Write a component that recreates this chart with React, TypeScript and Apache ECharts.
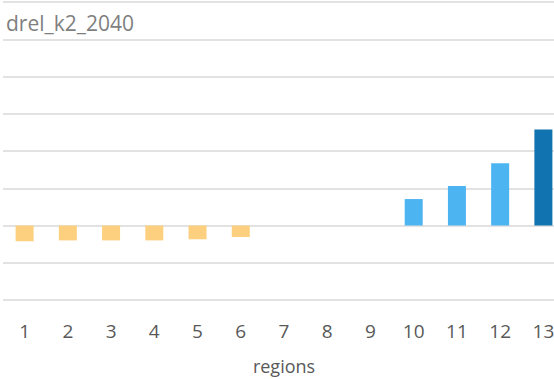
import React, { useEffect, useRef } from "react";
import * as echarts from "echarts";

const regions = ["1", "2", "3", "4", "5", "6", "7", "8", "9", "10", "11", "12", "13"];
const drelValues = [-0.42, -0.4, -0.4, -0.4, -0.37, -0.31, 0, 0, 0, 0.71, 1.06, 1.67, 2.58];

const NEG_COLOR = "#FDD07F";
const POS_COLOR = "#4DB4F2";
const TOP_COLOR = "#1174B0";

export default function App() {
  const ref = useRef<HTMLDivElement>(null);

  useEffect(() => {
    if (!ref.current) return;
    const chart = echarts.init(ref.current, undefined, { renderer: "svg" });
    const maxVal = Math.max(...drelValues);
    const data = drelValues.map((v) => {
      const color = v < 0 ? NEG_COLOR : v === maxVal ? TOP_COLOR : POS_COLOR;
      // zero-valued regions draw no bar at all
      return v === 0 ? "-" : { value: v, itemStyle: { color } };
    });
    chart.setOption({
      animation: false,
      backgroundColor: "#ffffff",
      title: {
        text: "drel_k2_2040",
        left: 1,
        top: 7,
        textStyle: {
          fontFamily: "Open Sans",
          fontSize: 21,
          fontWeight: "normal",
          color: "#7f7f7f",
        },
      },
      grid: {
        left: 3,
        top: 2,
        width: 562,
        height: 298,
        containLabel: false,
        outerBoundsMode: "none",
      },
      xAxis: {
        type: "category",
        data: regions,
        name: "regions",
        nameLocation: "middle",
        nameGap: 57,
        nameTextStyle: { fontFamily: "Open Sans", fontSize: 18, color: "#595959" },
        axisLine: { show: false },
        axisTick: { show: false },
        axisLabel: {
          margin: 21,
          fontFamily: "Open Sans",
          fontSize: 19,
          color: "#595959",
        },
      },
      yAxis: {
        type: "value",
        min: -2,
        max: 6,
        interval: 1,
        axisLabel: { show: false },
        axisLine: { show: false },
        axisTick: { show: false },
        splitLine: { lineStyle: { color: "#d9d9d9", width: 1.5 } },
      },
      series: [
        {
          type: "bar",
          data,
          barWidth: 18,
        },
      ],
    });
    return () => chart.dispose();
  }, []);

  return (
    <div
      style={{
        position: "fixed",
        left: 0,
        top: 0,
        width: 554,
        height: 379,
        overflow: "hidden",
      }}
    >
      <div ref={ref} style={{ width: 554, height: 379 }} />
    </div>
  );
}
